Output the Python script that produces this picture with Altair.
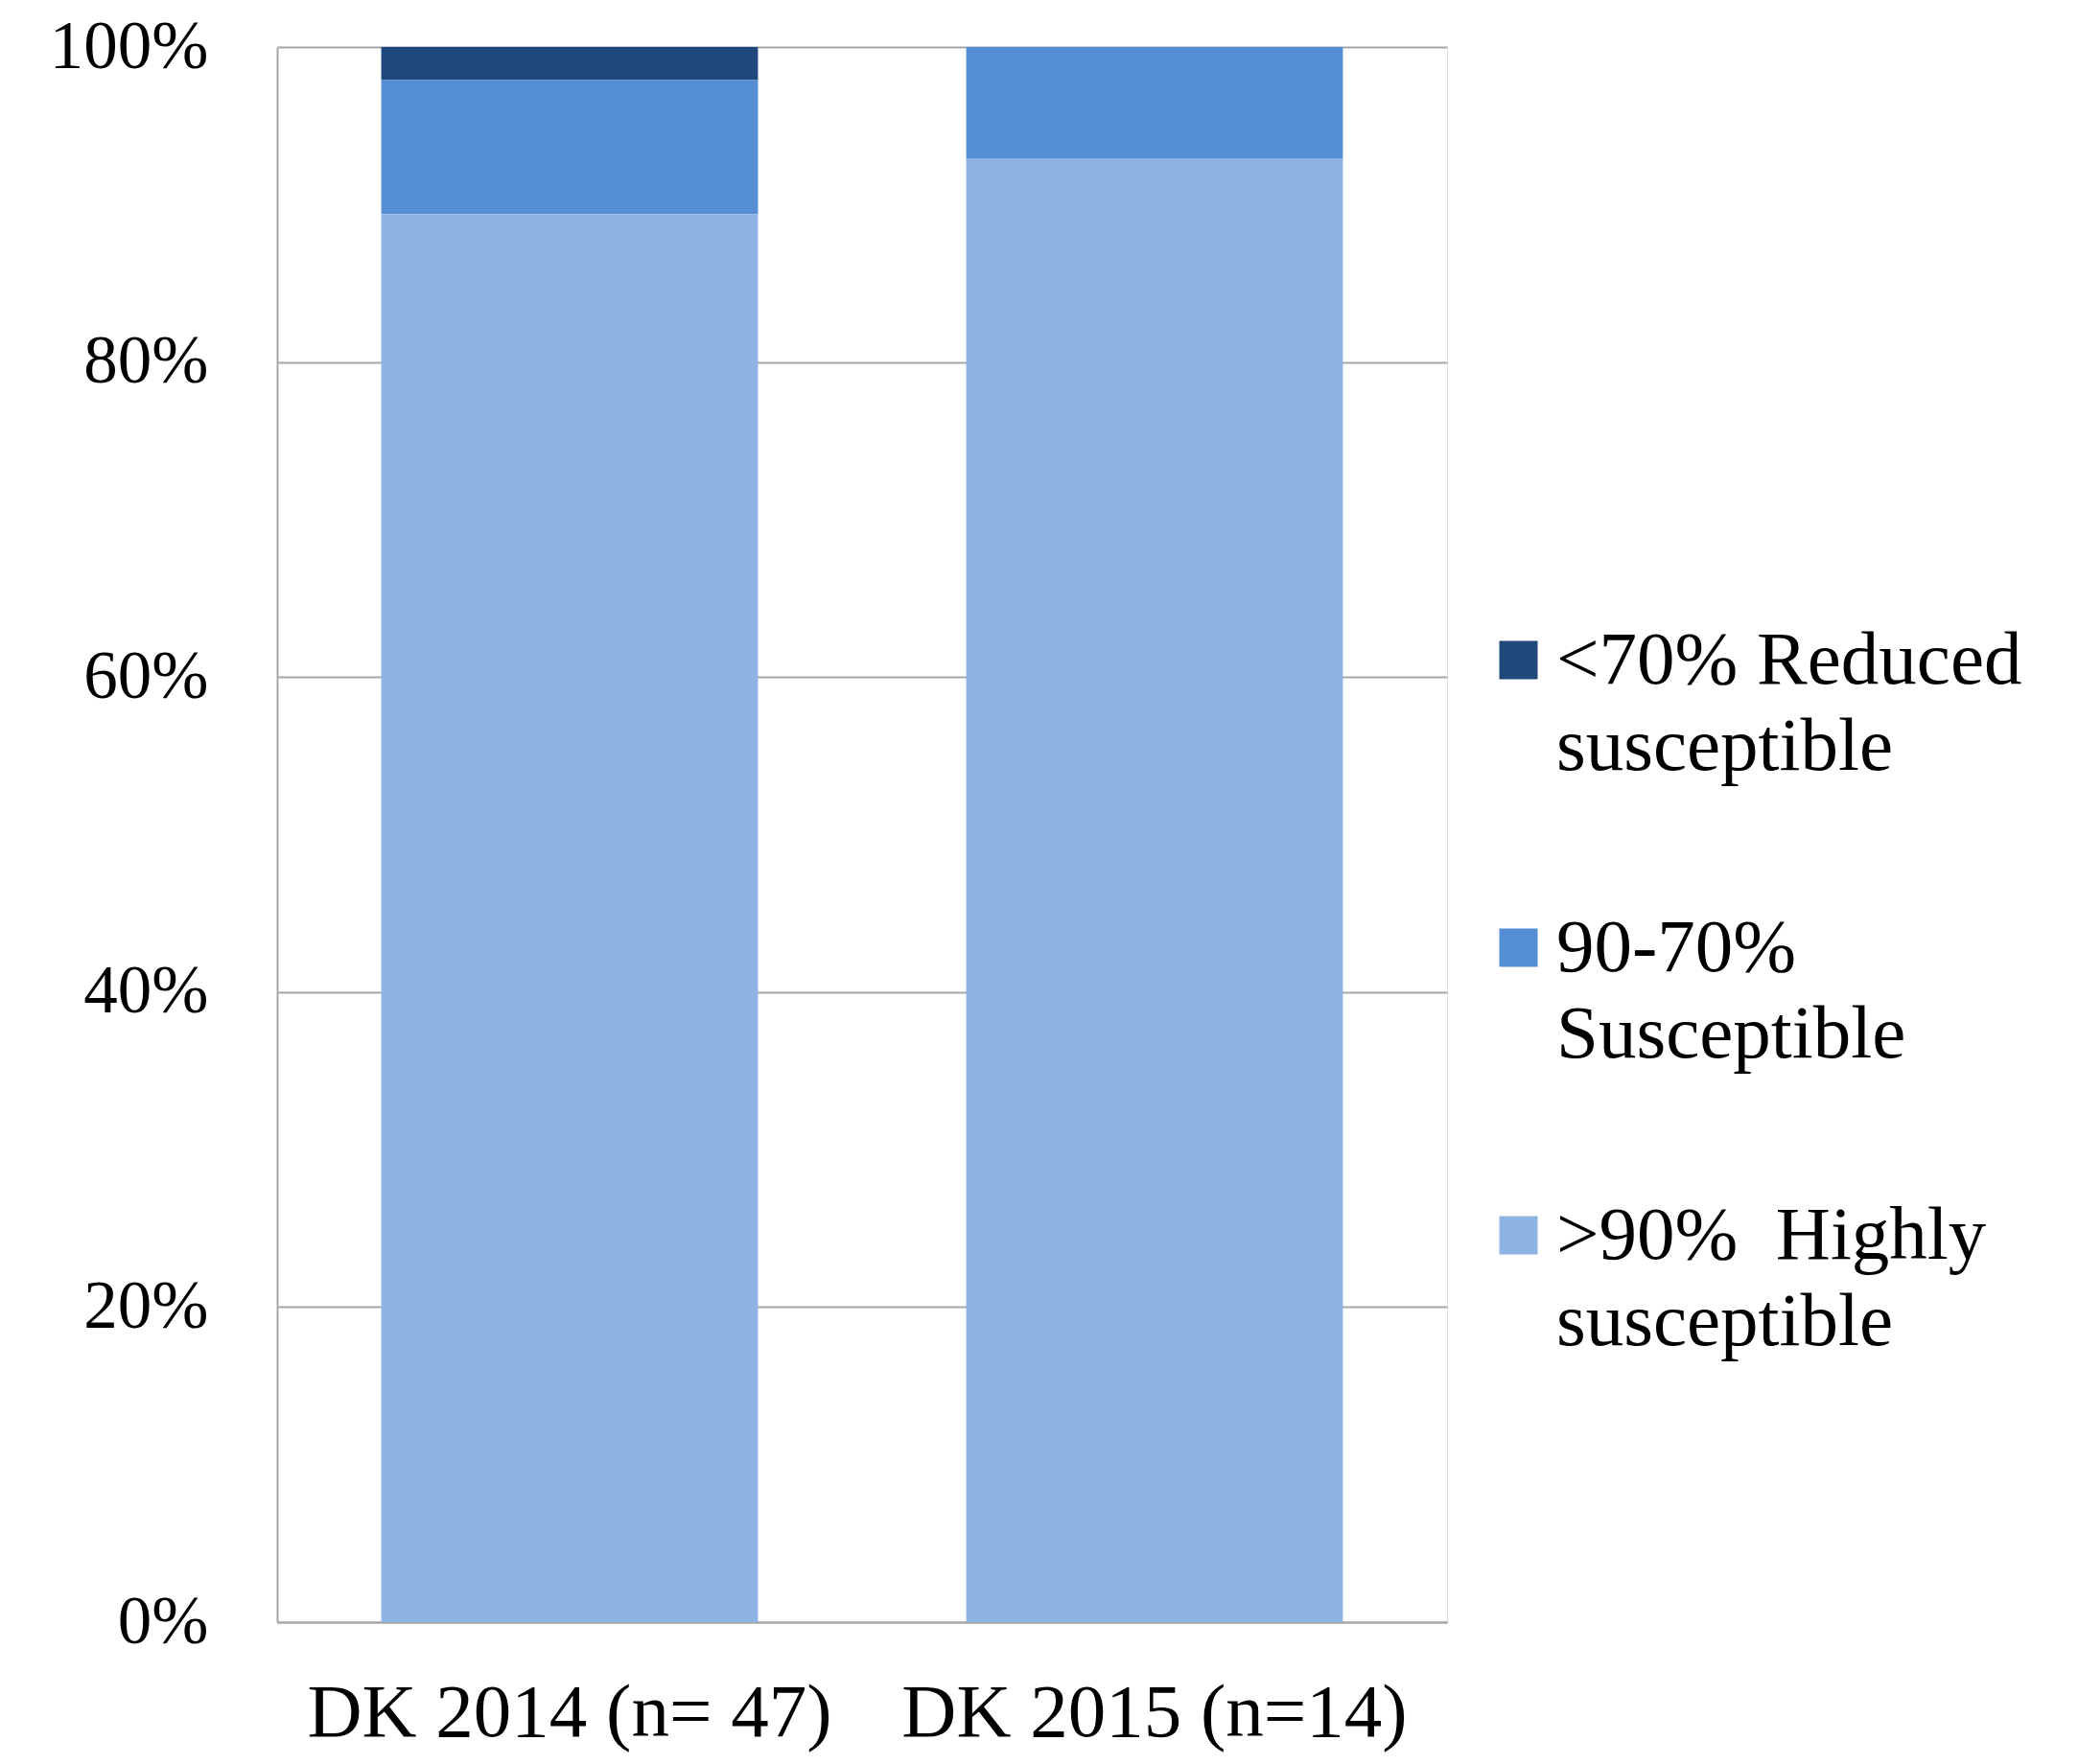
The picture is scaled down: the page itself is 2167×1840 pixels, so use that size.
import altair as alt
import pandas as pd

# Isolates per year and their susceptibility class share
groups = ["DK 2014 (n= 47)", "DK 2015 (n=14)"]
classes = ["<70% Reduced susceptible", "90-70% Susceptible", ">90% Highly susceptible"]
legend_lines = [["<70% Reduced", "susceptible"],
                ["90-70%", "Susceptible"],
                [">90%\u00a0 Highly", "susceptible"]]
colors = ["#1F497D", "#558ED5", "#8EB4E3"]
stack_rank = [2, 1, 0]  # highly susceptible at the bottom

share_2014 = [0.021, 0.085, 0.894]
share_2015 = [0.0, 0.071, 0.929]

rows = []
for g, shares in zip(groups, [share_2014, share_2015]):
    for c, s, r in zip(classes, shares, stack_rank):
        rows.append({"group": g, "cls": c, "share": s, "rank": r})
df = pd.DataFrame(rows)

label_expr = " : ".join(
    f"datum.label == '{c}' ? {lines!r}" for c, lines in zip(classes, legend_lines)
) + " : datum.label"

FONT = "Liberation Serif"

chart = alt.Chart(df).mark_bar().encode(
    x=alt.X("group:N", sort=groups, title=None,
            scale=alt.Scale(paddingInner=0.356, paddingOuter=0.178),
            axis=alt.Axis(labelAngle=0, labelFont=FONT, labelFontSize=79,
                          labelColor="black", labelPadding=56, ticks=False,
                          labelLimit=1000,
                          domainColor="#A6A6A6", domainWidth=2, labelBaseline="top")),
    y=alt.Y("share:Q", stack="zero", title=None,
            scale=alt.Scale(domain=[0, 1], nice=False),
            axis=alt.Axis(values=[0, 0.2, 0.4, 0.6, 0.8, 1.0], format=".0%",
                          labelFont=FONT, labelFontSize=71, labelColor="black",
                          labelPadding=72, ticks=False, grid=True,
                          gridColor="#A6A6A6", gridWidth=2,
                          domainColor="#A6A6A6", domainWidth=2)),
    color=alt.Color("cls:N", sort=classes,
                    scale=alt.Scale(domain=classes, range=colors),
                    legend=alt.Legend(title=None, orient="none", legendX=1255, legendY=600,
                                      symbolType="square", symbolSize=1600,
                                      symbolStrokeWidth=0, labelFont=FONT,
                                      labelFontSize=79, labelColor="black",
                                      labelLimit=800, labelOffset=0,
                                      labelBaseline="middle", labelExpr=label_expr,
                                      rowPadding=130, padding=0)),
    order=alt.Order("rank:Q", sort="ascending"),
).properties(
    width=1220, height=1643,
    autosize=alt.AutoSizeParams(type="none"),
    padding={"left": 289, "top": 49, "right": 658, "bottom": 148},
).configure_view(stroke=None).configure(
    background="white",
    style={"guide-label": {"lineHeight": 90}},
)

chart.save("out.html", embed_options={"renderer": "svg", "actions": False})
